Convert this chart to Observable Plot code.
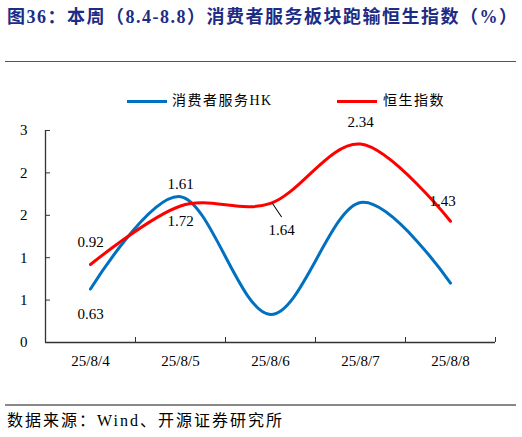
<!DOCTYPE html>
<html>
<head>
<meta charset="utf-8">
<script src="https://cdn.jsdelivr.net/npm/d3@7"></script>
<script src="https://cdn.jsdelivr.net/npm/@observablehq/plot@0.6"></script>
<style>
  body { margin: 0; background: #fff; }
  #wrap { position: relative; width: 522px; height: 437px; overflow: hidden;
          font-family: "Liberation Serif", "Noto Sans CJK SC", serif; color: #000; }
  #title { position: absolute; left: 7px; top: 4px; font-size: 18px; font-weight: bold; letter-spacing: 1.5px;
           color: #1d2c85; white-space: nowrap; line-height: 26px; }
  #rule1 { position: absolute; left: 5px; top: 61px; width: 511px; border-top: 1.5px solid #555; }
  .sw { position: absolute; height: 3px; }
  .lg { position: absolute; font-size: 14px; line-height: 20px; white-space: nowrap; letter-spacing: 1.5px; }
  #chart { position: absolute; left: 0; top: 110px; }
  #rule2 { position: absolute; left: 5px; top: 404px; width: 511px; border-top: 2px solid #888; }
  #source { position: absolute; left: 7px; top: 409px; font-size: 16px; letter-spacing: 2px;
            white-space: nowrap; line-height: 24px; }
</style>
</head>
<body>
<div id="wrap">
  <div id="title">图36：本周（8.4-8.8）消费者服务板块跑输恒生指数（%）</div>
  <div id="rule1"></div>
  <div id="legend"></div>
  <div id="chart"></div>
  <div id="rule2"></div>
  <div id="source">数据来源：Wind、开源证券研究所</div>
</div>
<script>
// data
const dates = ["25/8/4", "25/8/5", "25/8/6", "25/8/7", "25/8/8"];
const consumerHK = [0.63, 1.72, 0.33, 1.65, 0.70];
const hsi = [0.92, 1.61, 1.64, 2.34, 1.43];
const seriesNames = ["消费者服务HK", "恒生指数"];
const seriesColors = ["#0070c0", "#ff0000"];
const yTicks = [0, 0.5, 1, 1.5, 2, 2.5];

const rows = [
  ...dates.map((d, i) => ({i, date: d, series: seriesNames[0], value: consumerHK[i]})),
  ...dates.map((d, i) => ({i, date: d, series: seriesNames[1], value: hsi[i]}))
];
const blue = rows.filter(d => d.series === seriesNames[0]);
const red = rows.filter(d => d.series === seriesNames[1]);

// legend (html, above the svg)
const legend = document.getElementById("legend");
[[127, 172], [337, 383]].forEach(([sx, tx], k) => {
  const sw = document.createElement("div");
  sw.className = "sw";
  sw.style.cssText = `left:${sx}px;top:100px;width:40px;background:${seriesColors[k]}`;
  legend.appendChild(sw);
  const lb = document.createElement("div");
  lb.className = "lg";
  lb.style.cssText = `left:${tx}px;top:91px`;
  lb.textContent = seriesNames[k];
  legend.appendChild(lb);
});

const lineShape = {draw(ctx, l) { ctx.moveTo(0, 0); ctx.lineTo(0, -l); }};
const font = {fontSize: 15, fontFamily: "Liberation Serif, Noto Sans CJK SC, serif", fill: "#000"};

const chart = Plot.plot({
  width: 522,
  height: 290,
  marginTop: 20,
  marginBottom: 58,
  marginLeft: 45,
  marginRight: 27,
  style: {fontFamily: "Liberation Serif, serif", fontSize: "15px", color: "#000", background: "transparent"},
  x: {type: "linear", domain: [-0.5, dates.length - 0.5]},
  y: {domain: [0, 2.5]},
  color: {domain: seriesNames, range: seriesColors},
  marks: [
    // axis ticks (inward) and labels
    Plot.axisY({ticks: yTicks, tickSize: -5, text: null, stroke: "#333", label: null}),
    Plot.axisY({ticks: yTicks, tickSize: 0, tickPadding: 18, tickFormat: d => String(Math.round(d)), fontSize: 15, label: null}),
    Plot.axisX({ticks: d3.range(dates.length + 1).map(i => i - 0.5), tickSize: -5, text: null, stroke: "#333", label: null}),
    Plot.axisX({ticks: d3.range(dates.length), tickSize: 0, tickPadding: 13, tickFormat: i => dates[i], fontSize: 15, label: null}),
    Plot.ruleX([-0.5], {stroke: "#333", strokeWidth: 1.3}),
    Plot.ruleY([0], {stroke: "#333", strokeWidth: 1.3}),
    // smoothed lines
    Plot.line(rows, {x: "i", y: "value", z: "series", stroke: "series", curve: "cardinal", strokeWidth: 3}),
    // data labels
    Plot.text(red.filter(d => [0, 1, 3].includes(d.i)), {x: "i", y: "value", text: d => d.value.toFixed(2), dy: -22, ...font}),
    Plot.text(red.filter(d => d.i === 4), {x: "i", y: "value", text: d => d.value.toFixed(2), dx: -8, dy: -20, ...font}),
    Plot.text(red.filter(d => d.i === 2), {x: "i", y: "value", text: d => d.value.toFixed(2), dx: 11, dy: 27, ...font}),
    Plot.vector(red.filter(d => d.i === 2), {x: "i", y: "value", dx: 2, length: 16, rotate: 146, anchor: "start", shape: lineShape, stroke: "#000", strokeWidth: 1}),
    Plot.text(blue.filter(d => d.i <= 1), {x: "i", y: "value", text: d => d.value.toFixed(2), dy: 25, ...font})
  ]
});
document.getElementById("chart").appendChild(chart);
</script>
</body>
</html>
